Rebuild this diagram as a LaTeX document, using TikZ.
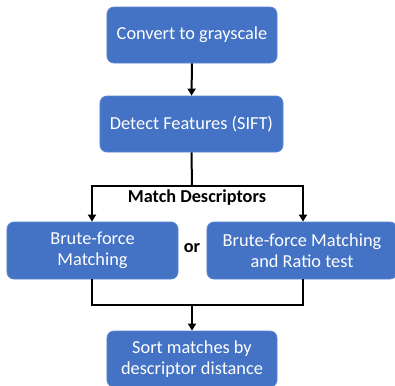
\documentclass[tikz,border=0pt]{standalone}
\usepackage{fontspec}
\setmainfont{Carlito}
\usetikzlibrary{arrows.meta}
\definecolor{boxblue}{HTML}{4472C4}
\definecolor{boxedge}{HTML}{5A86D2}
\tikzset{
  flowbox/.style={draw=boxedge, line width=0.8bp, fill=boxblue, rounded corners=7bp, text=white, font=\fontsize{18.4}{21}\selectfont, align=center, inner sep=0pt},
  conn/.style={line width=2bp, black},
  arr/.style={conn, -{Triangle[length=7bp,width=8bp]}}
}
\begin{document}
\begin{tikzpicture}[x=1bp,y=-1bp]
\useasboundingbox (0,0) rectangle (395,386);
\node[flowbox, minimum width=170bp, minimum height=56bp] (convert) at (192,35) {Convert to grayscale};
\node[flowbox, minimum width=183bp, minimum height=56bp] (detect) at (191.5,124) {Detect Features (SIFT)};
\node[flowbox, minimum width=171bp, minimum height=57bp] (brute) at (92.5,250.5) {Brute-force\\Matching};
\node[flowbox, minimum width=190bp, minimum height=57bp] (ratio) at (302,250.5) {Brute-force Matching\\and Ratio test};
\node[flowbox, minimum width=170bp, minimum height=56bp] (sort) at (192,359) {Sort matches by\\descriptor distance};
\node[font=\bfseries\fontsize{18.3}{20}\selectfont] (match) at (197,198) {Match Descriptors};
\node[font=\bfseries\fontsize{18.3}{20}\selectfont] (or) at (192,248) {or};
\coordinate (split) at (192,186);
\coordinate (joinL) at (92,305);
\coordinate (joinR) at (303,305);
\coordinate (join) at (192,305);
\draw[arr] (convert.south) -- (detect.north);
\draw[conn] (detect.south) -- (split);
\draw[arr] (split) -| ([xshift=-0.5bp]brute.north);
\draw[arr] (split) -| ([xshift=1bp]ratio.north);
\draw[conn] ([xshift=-0.5bp]brute.south) |- (join);
\draw[conn] ([xshift=1bp]ratio.south) |- (join);
\draw[arr] (join) -- (sort.north);
\end{tikzpicture}
\end{document}
